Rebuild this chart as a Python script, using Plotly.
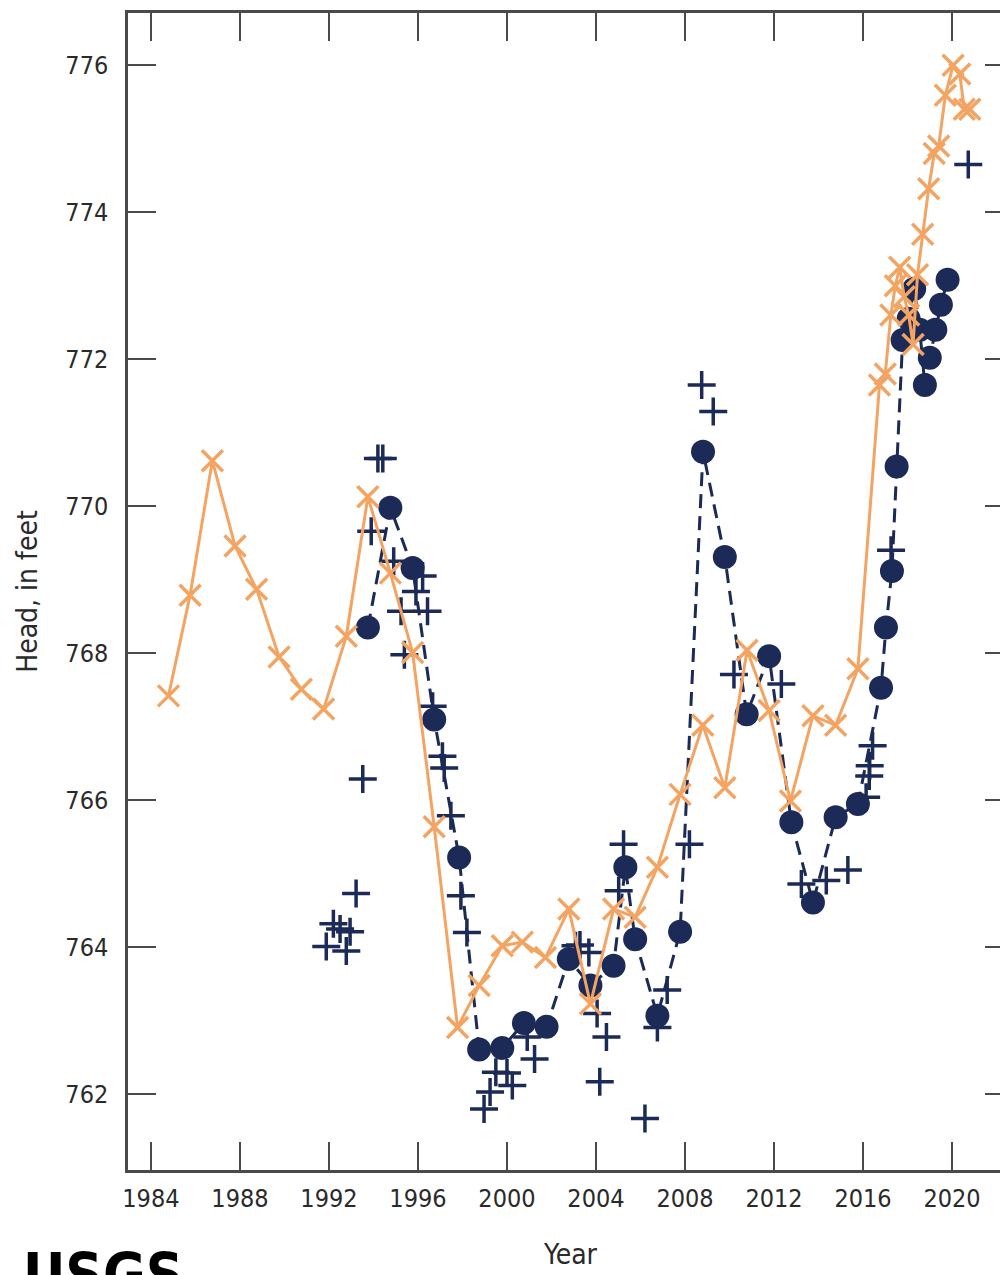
import plotly.graph_objects as go

# Orange series (x markers, solid line)
orange_year = [1984.79, 1985.76, 1986.76, 1987.78, 1988.75, 1989.76, 1990.76, 1991.76,
               1992.78, 1993.75, 1994.76, 1995.76, 1996.73, 1997.78, 1998.75, 1999.79,
               2000.69, 2001.73, 2002.78, 2003.75, 2004.79, 2005.76, 2006.76, 2007.78,
               2008.80, 2009.79, 2010.79, 2011.78, 2012.74, 2013.75, 2014.77, 2015.77,
               2016.74, 2017.00, 2017.25, 2017.45, 2017.65, 2017.85, 2018.05, 2018.25,
               2018.45, 2018.68, 2018.95, 2019.20, 2019.40, 2019.70, 2020.05, 2020.35,
               2020.55, 2020.80]
orange_head = [767.42, 768.79, 770.62, 769.46, 768.87, 767.95, 767.51, 767.24,
               768.23, 770.13, 769.09, 768.01, 765.64, 762.91, 763.48, 764.02,
               764.07, 763.86, 764.52, 763.23, 764.52, 764.41, 765.09, 766.08,
               767.02, 766.17, 768.04, 767.22, 765.99, 767.15, 767.02, 767.79,
               771.65, 771.80, 772.60, 773.00, 773.25, 772.85, 772.60, 772.20,
               773.15, 773.70, 774.32, 774.80, 774.90, 775.59, 776.00, 775.88,
               775.40, 775.40]

# Navy series (filled circles, dashed line)
navy_year = [1993.75, 1994.76, 1995.76, 1996.73, 1997.85, 1998.75, 1999.79, 2000.76,
             2001.78, 2002.78, 2003.75, 2004.79, 2005.32, 2005.76, 2006.76, 2007.78,
             2008.81, 2009.79, 2010.77, 2011.78, 2012.78, 2013.75, 2014.77, 2015.77,
             2016.81, 2017.03, 2017.30, 2017.51, 2017.78, 2018.05, 2018.30, 2018.55,
             2018.78, 2019.00, 2019.25, 2019.50, 2019.80]
navy_head = [768.35, 769.98, 769.16, 767.10, 765.22, 762.61, 762.63, 762.97,
             762.92, 763.84, 763.48, 763.75, 765.09, 764.11, 763.07, 764.21,
             770.74, 769.31, 767.17, 767.96, 765.70, 764.61, 765.77, 765.95,
             767.53, 768.35, 769.12, 770.54, 772.26, 772.55, 772.96, 772.40,
             771.65, 772.02, 772.40, 772.74, 773.08]

# Navy plus markers (no line)
plus_year = [1991.88, 1992.20, 1992.50, 1992.78, 1992.95, 1993.22, 1993.52, 1993.90,
             1994.20, 1994.42, 1994.91, 1995.24, 1995.39, 1995.91, 1996.21, 1996.43,
             1996.66, 1997.10, 1997.18, 1997.48, 1997.93, 1998.20, 1998.97, 1999.24,
             1999.50, 2000.00, 2000.24, 2000.91, 2001.24, 2003.08, 2003.28, 2003.68,
             2004.05, 2004.17, 2004.47, 2005.02, 2005.24, 2006.20, 2006.76, 2007.20,
             2008.20, 2008.75, 2009.27, 2010.20, 2012.33, 2013.23, 2014.35, 2015.32,
             2016.14, 2016.28, 2016.30, 2016.43, 2017.26, 2020.73]
plus_head = [764.01, 764.32, 764.25, 763.95, 764.21, 764.73, 766.29, 769.66,
             770.65, 770.65, 769.25, 768.57, 767.98, 768.84, 769.05, 768.57,
             767.28, 766.60, 766.44, 765.79, 764.70, 764.20, 761.80, 762.03,
             762.30, 762.29, 762.12, 762.78, 762.48, 764.02, 764.03, 763.93,
             763.10, 762.17, 762.78, 764.77, 765.40, 761.67, 762.91, 763.42,
             765.40, 771.65, 771.29, 767.71, 767.58, 764.86, 764.91, 765.05,
             766.04, 766.33, 766.47, 766.74, 769.40, 774.65]

x_ticks = [1984, 1988, 1992, 1996, 2000, 2004, 2008, 2012, 2016, 2020]
y_ticks = [762, 764, 766, 768, 770, 772, 774, 776]

NAVY = "#1B2A56"
ORANGE = "#F4A462"
AXIS = "#4A4A4A"
TXT = "#2A2A2A"
FONT = "DejaVu Sans Condensed, Liberation Sans Narrow, sans-serif"

fig = go.Figure()

fig.add_trace(go.Scatter(
    x=plus_year, y=plus_head, mode="markers",
    marker=dict(symbol="cross-thin", size=20, color=NAVY,
                line=dict(color=NAVY, width=3.5)),
    showlegend=False, cliponaxis=False))

fig.add_trace(go.Scatter(
    x=navy_year, y=navy_head, mode="lines+markers",
    line=dict(color=NAVY, width=3, dash="14px,8px"),
    marker=dict(symbol="circle", size=24, color=NAVY),
    showlegend=False, cliponaxis=False))

fig.add_trace(go.Scatter(
    x=orange_year, y=orange_head, mode="lines+markers",
    line=dict(color=ORANGE, width=3),
    marker=dict(symbol="x-thin", size=21, color=ORANGE,
                line=dict(color=ORANGE, width=3.5)),
    showlegend=False, cliponaxis=False))

fig.update_layout(
    width=1008, height=1275,
    margin=dict(l=120, r=0, t=5, b=113),
    paper_bgcolor="white", plot_bgcolor="white",
    font=dict(family=FONT, size=25, color=TXT),
    xaxis=dict(
        range=[1982.97, 2022.74], tickvals=x_ticks,
        ticktext=[str(v) for v in x_ticks],
        ticks="inside", ticklen=28, tickwidth=2, tickcolor=AXIS,
        showline=True, linecolor=AXIS, linewidth=2.5, mirror="ticks",
        showgrid=False, zeroline=False,
        tickfont=dict(family=FONT, size=25, color=TXT),
        ticklabelstandoff=4,
    ),
    yaxis=dict(
        range=[760.97, 776.71], tickvals=y_ticks,
        ticktext=[str(v) for v in y_ticks],
        ticks="inside", ticklen=28, tickwidth=2, tickcolor=AXIS,
        showline=True, linecolor=AXIS, linewidth=2.5, mirror="ticks",
        showgrid=False, zeroline=False,
        tickfont=dict(family=FONT, size=25, color=TXT),
        ticklabelstandoff=12,
        title=dict(text="Head, in feet", font=dict(family=FONT, size=28, color=TXT),
                   standoff=20),
    ),
    annotations=[
        dict(text="Year", xref="paper", yref="paper",
             x=0.5, y=-0.073, xanchor="center", yanchor="middle",
             showarrow=False, font=dict(family=FONT, size=28, color=TXT)),
        dict(text="<b>USGS</b>", xref="paper", yref="paper",
             x=-0.121, y=-0.060, xanchor="left", yanchor="top",
             showarrow=False, font=dict(family=FONT, size=58, color="black")),
    ],
)

fig.write_html("out.html")
